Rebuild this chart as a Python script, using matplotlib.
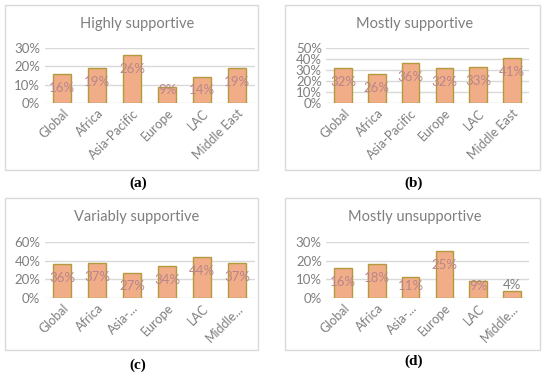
import matplotlib.pyplot as plt
from matplotlib.patches import Rectangle

# Data
regions_full = ["Global", "Africa", "Asia-Pacific", "Europe", "LAC", "Middle East"]
regions_short = ["Global", "Africa", "Asia-...", "Europe", "LAC", "Middle..."]
highly = [0.16, 0.19, 0.26, 0.09, 0.14, 0.19]
mostly = [0.32, 0.26, 0.36, 0.32, 0.33, 0.41]
variably = [0.36, 0.37, 0.27, 0.34, 0.44, 0.37]
unsupportive = [0.16, 0.18, 0.11, 0.25, 0.09, 0.04]

W, H = 550, 376
plt.rcParams['font.family'] = ['Lato', 'DejaVu Sans']

fig = plt.figure(figsize=(W / 100, H / 100), dpi=100)

GREY = "#7f7f7f"
FILL = "#f0ad88"
EDGE = "#b39a3c"
LBL = "#b9858a"

# (title, labels, values, ymax, step, box(x0,y0,x1,y1), plot(x0,x1,ytop,ybase), title pos, letter pos)
panels = [
    ("Highly supportive", regions_full, highly, 0.30, 0.10,
     (5, 5, 258, 170), (44.5, 254.5, 48, 103), (137, 24), ("(a)", 138, 183)),
    ("Mostly supportive", regions_full, mostly, 0.50, 0.10,
     (285, 5, 540, 170), (326, 529, 48, 103), (415, 24), ("(b)", 414, 183)),
    ("Variably supportive", regions_short, variably, 0.60, 0.20,
     (5, 198, 258, 350), (44.5, 254.5, 242, 298), (137, 217), ("(c)", 138, 365)),
    ("Mostly unsupportive", regions_short, unsupportive, 0.30, 0.10,
     (285, 198, 540, 350), (326, 529, 242, 298), (415, 217), ("(d)", 414, 361)),
]

for title, labels, vals, ymax, step, box, plot, tpos, letter in panels:
    bx0, by0, bx1, by1 = box
    fig.patches.append(Rectangle((bx0 / W, 1 - by1 / H), (bx1 - bx0) / W, (by1 - by0) / H,
                                 transform=fig.transFigure, fill=False,
                                 edgecolor="#d9d9d9", linewidth=1.0))
    px0, px1, ptop, pbase = plot
    ax = fig.add_axes([px0 / W, 1 - pbase / H, (px1 - px0) / W, (pbase - ptop) / H])
    x = list(range(len(vals)))
    ax.bar(x, vals, width=0.52, color=FILL, edgecolor=EDGE, linewidth=1.0, zorder=3)
    ax.set_xlim(-0.5, len(vals) - 0.5)
    ax.set_ylim(0, ymax)
    ticks = [i * step for i in range(int(round(ymax / step)) + 1)]
    ax.set_yticks(ticks)
    ax.set_yticklabels([f"{int(round(t * 100))}%" for t in ticks], color=GREY, fontsize=9.5)
    ax.set_xticks(x)
    ax.set_xticklabels(labels, rotation=45, ha="right", rotation_mode="anchor",
                       color=GREY, fontsize=9)
    ax.tick_params(length=0, pad=3)
    ax.grid(axis="y", color="#d9d9d9", linewidth=1.0, zorder=0)
    for s in ax.spines.values():
        s.set_visible(False)
    ax.patch.set_alpha(0)

    pxu = (pbase - ptop) / ymax  # pixels per unit
    for xi, v in zip(x, vals):
        hpx = v * pxu
        if hpx < 12:
            ly = v + 6 / pxu
            col = GREY
        else:
            ly = max(v - 14 / pxu, 12.5 / pxu)
            col = LBL
        ax.text(xi, ly, f"{int(round(v * 100))}%", ha="center", va="center",
                color=col, fontsize=9.5, zorder=4)

    fig.text(tpos[0] / W, 1 - tpos[1] / H, title, ha="center", va="center",
             color=GREY, fontsize=10.5)
    fig.text(letter[1] / W, 1 - letter[2] / H, letter[0], ha="center", va="center",
             family="Liberation Serif", fontweight="bold", fontsize=11, color="black")

fig.savefig("out.png", dpi=100)
